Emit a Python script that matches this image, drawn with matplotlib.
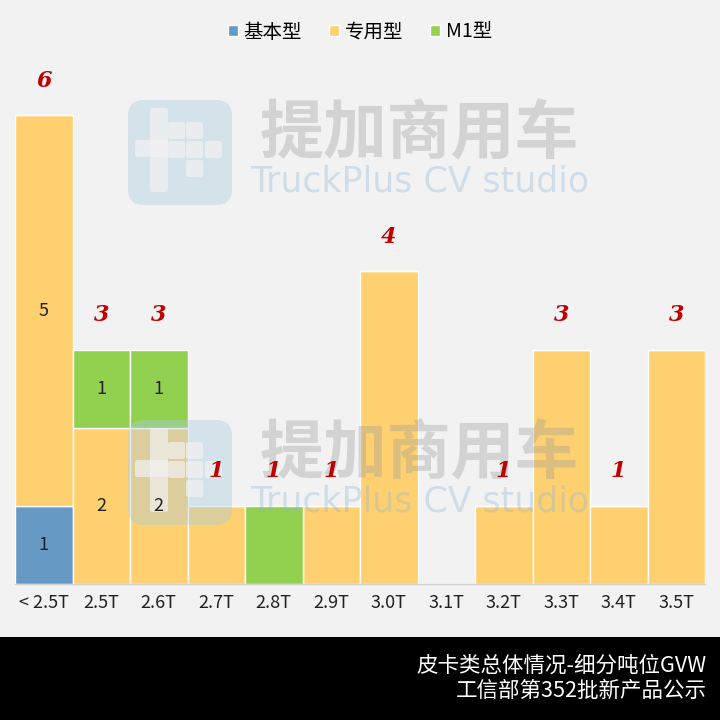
import matplotlib
matplotlib.use("Agg")
import matplotlib.pyplot as plt
from matplotlib.patches import FancyBboxPatch, Rectangle
import numpy as np

plt.rcParams['font.family'] = ['Noto Sans CJK SC', 'DejaVu Sans']

categories = ["< 2.5T", "2.5T", "2.6T", "2.7T", "2.8T", "2.9T", "3.0T", "3.1T", "3.2T", "3.3T", "3.4T", "3.5T"]
series_names = ["基本型", "专用型", "M1型"]
basic = [1, 0, 0, 0, 0, 0, 0, 0, 0, 0, 0, 0]
special = [5, 2, 2, 1, 0, 1, 4, 0, 1, 3, 1, 3]
m1 = [0, 1, 1, 0, 1, 0, 0, 0, 0, 0, 0, 0]
colors = ["#6699c4", "#ffd06f", "#92d050"]
title_lines = ["皮卡类总体情况-细分吨位GVW", "工信部第352批新产品公示"]

bg = "#f2f2f2"
fig = plt.figure(figsize=(7.2, 7.2), dpi=100, facecolor=bg)
ax = fig.add_axes([15/720, 1-584/720, 690/720, (584-37)/720])
ax.set_facecolor(bg)

x = np.arange(len(categories))
series = [basic, special, m1]
bottom = np.zeros(len(categories))
handles = []
for vals, col, name in zip(series, colors, series_names):
    v = np.array(vals, dtype=float)
    b = ax.bar(x, v, width=1.0, bottom=bottom, color=col, edgecolor="white", linewidth=1.0, label=name, zorder=2)
    handles.append(b)
    bottom += v

totals = bottom.copy()
nseg = (np.array(series) > 0).sum(axis=0)
bottom2 = np.zeros(len(categories))
for vals in series:
    v = np.array(vals, dtype=float)
    for i in range(len(categories)):
        if v[i] > 0 and nseg[i] > 1:
            ax.text(x[i], bottom2[i] + v[i]/2, f"{int(v[i])}", ha="center", va="center", fontsize=13,
                    color="#222222", zorder=6)
    bottom2 += v

for i, t in enumerate(totals):
    if t > 0:
        ax.text(x[i], t + 0.44, f"{int(t)}", ha="center", va="center", fontsize=16, color="#c00000",
                fontstyle="italic", fontweight="bold", family="DejaVu Serif", zorder=6)

ax.set_xlim(-0.5, len(categories) - 0.5)
ax.set_ylim(0, 7)
ax.set_xticks(x)
ax.set_xticklabels(categories, fontsize=13, color="#222222")
ax.tick_params(axis="x", length=0, pad=7)
ax.set_yticks([])
for s in ["top", "right", "left"]:
    ax.spines[s].set_visible(False)
ax.spines["bottom"].set_color("#d0d0d0")
ax.spines["bottom"].set_linewidth(1.0)

leg = fig.legend(handles=handles, labels=series_names, loc="center", bbox_to_anchor=(0.5, 1-32/720),
                 ncol=3, frameon=False, fontsize=14, handlelength=0.5, handleheight=0.5,
                 handletextpad=0.3, columnspacing=1.4)

# watermarks (between bars and labels)
def px(xp, yp):
    return xp/720, 1-yp/720

for dy in [0, 320]:
    lx, ly = px(128, 205+dy)
    logo = FancyBboxPatch((lx, ly), 104/720, 105/720,
                          boxstyle="round,pad=0,rounding_size=0.022",
                          transform=fig.transFigure, facecolor="#a9cbe0", edgecolor="none", alpha=0.4,
                          zorder=3, clip_on=False)
    ax.add_artist(logo)
    logo.set_clip_path(None)
    shapes = [(150, 108, 18, 84), (135, 140, 33, 17), (168, 122, 17, 17), (186, 122, 17, 17),
              (168, 141, 17, 17), (186, 141, 17, 17), (205, 141, 17, 17), (186, 160, 17, 17)]
    for (sx, sy, sw, sh) in shapes:
        rx, ry = px(sx, sy+sh+dy)
        p = FancyBboxPatch((rx, ry), sw/720, sh/720, boxstyle="round,pad=0,rounding_size=0.003",
                           transform=fig.transFigure, facecolor=bg, edgecolor="none",
                           alpha=0.7, zorder=3.5, clip_on=False)
        ax.add_artist(p)
        p.set_clip_path(None)
    tx, ty = px(419, 135+dy)
    ax.text(tx, ty, "提加商用车", ha="center", va="center", fontsize=46, fontweight="heavy",
            color="#9a9a9a", alpha=0.35, zorder=4, transform=fig.transFigure)
    tx, ty = px(420, 182+dy)
    ax.text(tx, ty, "TruckPlus CV studio", ha="center", va="center", fontsize=25,
            color="#8fb8d6", alpha=0.35, zorder=4, family="DejaVu Sans", transform=fig.transFigure)

# footer
fig.add_artist(Rectangle((0, 0), 1, 83/720, transform=fig.transFigure, facecolor="black", edgecolor="none", zorder=1))
fig.text(707/720, 1-666/720, title_lines[0], ha="right", va="center", fontsize=15.5, color="white", zorder=2)
fig.text(707/720, 1-691/720, title_lines[1], ha="right", va="center", fontsize=15.5, color="white", zorder=2)

fig.savefig("out.png", dpi=100, facecolor=bg)
